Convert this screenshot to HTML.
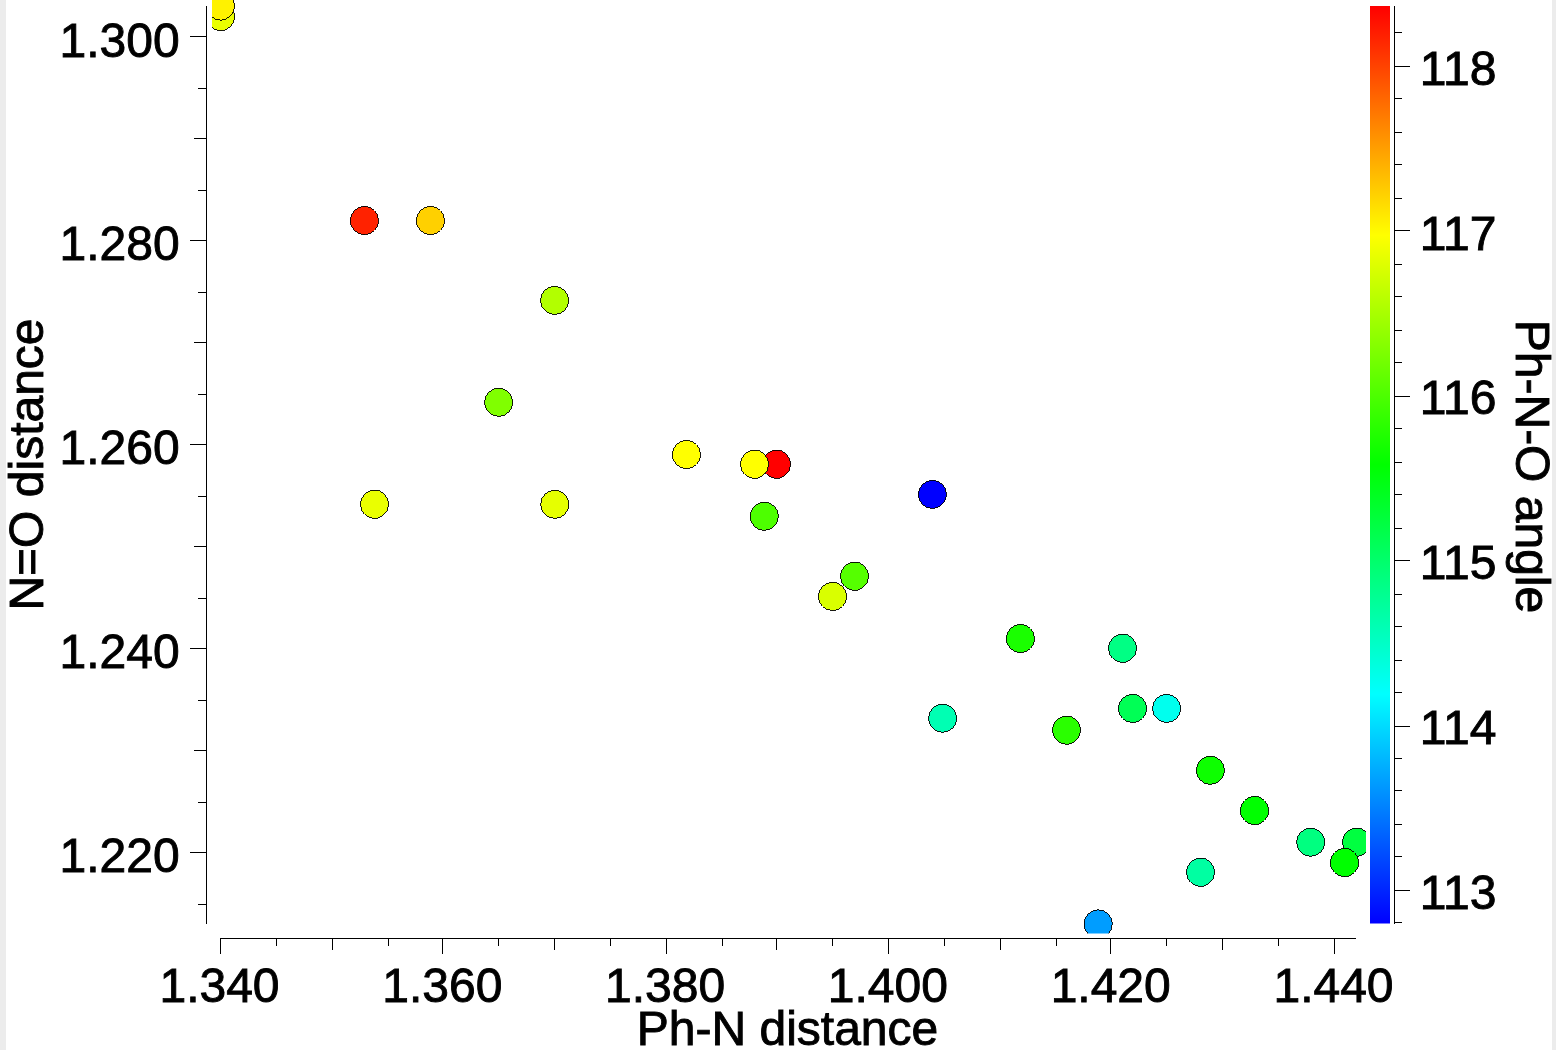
<!DOCTYPE html>
<html lang="en"><head><meta charset="utf-8"><title>Ph-N distance vs N=O distance</title>
<style>html,body{margin:0;padding:0;background:#fff;overflow:hidden}body{width:1556px;height:1050px;position:relative}svg{display:block;position:absolute;left:0;top:0}text{font-family:"Liberation Sans",Arial,Helvetica,sans-serif;font-size:48px;fill:#000;stroke:#000;stroke-width:0.9px;stroke-linejoin:miter}</style>
</head><body>
<svg width="1556" height="1050" viewBox="0 0 1556 1050">
<defs>
<clipPath id="plotclip"><rect x="212" y="-4" width="1154" height="937.6"/></clipPath>
<linearGradient id="cb" x1="0" y1="0" x2="0" y2="1"><stop offset="0.0000" stop-color="#ff0000"/><stop offset="0.0417" stop-color="#ff2a00"/><stop offset="0.0833" stop-color="#ff5500"/><stop offset="0.1250" stop-color="#ff8000"/><stop offset="0.1667" stop-color="#ffaa00"/><stop offset="0.2083" stop-color="#ffd400"/><stop offset="0.2500" stop-color="#ffff00"/><stop offset="0.2917" stop-color="#d4ff00"/><stop offset="0.3333" stop-color="#aaff00"/><stop offset="0.3750" stop-color="#80ff00"/><stop offset="0.4167" stop-color="#55ff00"/><stop offset="0.4583" stop-color="#2aff00"/><stop offset="0.5000" stop-color="#00ff00"/><stop offset="0.5417" stop-color="#00ff2a"/><stop offset="0.5833" stop-color="#00ff55"/><stop offset="0.6250" stop-color="#00ff80"/><stop offset="0.6667" stop-color="#00ffaa"/><stop offset="0.7083" stop-color="#00ffd4"/><stop offset="0.7500" stop-color="#00ffff"/><stop offset="0.7917" stop-color="#00d4ff"/><stop offset="0.8333" stop-color="#00aaff"/><stop offset="0.8750" stop-color="#0080ff"/><stop offset="0.9167" stop-color="#0055ff"/><stop offset="0.9583" stop-color="#002bff"/><stop offset="1.0000" stop-color="#0000ff"/></linearGradient>
</defs>
<rect x="0" y="0" width="1556" height="1050" fill="#ffffff"/>
<rect x="0" y="0" width="6" height="1050" fill="#ececec"/>
<rect x="1552" y="0" width="4" height="1050" fill="#ececec"/>
<g fill="#000" shape-rendering="crispEdges">
<rect x="206" y="6" width="1" height="918"/>
<rect x="190" y="36" width="16" height="1"/>
<rect x="198" y="88" width="8" height="1"/>
<rect x="194" y="138" width="12" height="1"/>
<rect x="198" y="190" width="8" height="1"/>
<rect x="190" y="240" width="16" height="1"/>
<rect x="198" y="292" width="8" height="1"/>
<rect x="194" y="342" width="12" height="1"/>
<rect x="198" y="394" width="8" height="1"/>
<rect x="190" y="444" width="16" height="1"/>
<rect x="198" y="496" width="8" height="1"/>
<rect x="194" y="546" width="12" height="1"/>
<rect x="198" y="598" width="8" height="1"/>
<rect x="190" y="648" width="16" height="1"/>
<rect x="198" y="700" width="8" height="1"/>
<rect x="194" y="750" width="12" height="1"/>
<rect x="198" y="802" width="8" height="1"/>
<rect x="190" y="852" width="16" height="1"/>
<rect x="198" y="904" width="8" height="1"/>
<rect x="220" y="938" width="1136" height="1"/>
<rect x="220" y="939" width="1" height="15"/>
<rect x="276" y="939" width="1" height="7"/>
<rect x="332" y="939" width="1" height="11"/>
<rect x="388" y="939" width="1" height="7"/>
<rect x="442" y="939" width="1" height="15"/>
<rect x="498" y="939" width="1" height="7"/>
<rect x="554" y="939" width="1" height="11"/>
<rect x="610" y="939" width="1" height="7"/>
<rect x="666" y="939" width="1" height="15"/>
<rect x="722" y="939" width="1" height="7"/>
<rect x="776" y="939" width="1" height="11"/>
<rect x="832" y="939" width="1" height="7"/>
<rect x="888" y="939" width="1" height="15"/>
<rect x="944" y="939" width="1" height="7"/>
<rect x="1000" y="939" width="1" height="11"/>
<rect x="1056" y="939" width="1" height="7"/>
<rect x="1110" y="939" width="1" height="15"/>
<rect x="1166" y="939" width="1" height="7"/>
<rect x="1222" y="939" width="1" height="11"/>
<rect x="1278" y="939" width="1" height="7"/>
<rect x="1334" y="939" width="1" height="15"/>
<rect x="1394" y="6" width="1" height="918"/>
<rect x="1395" y="32" width="7" height="1"/>
<rect x="1395" y="66" width="15" height="1"/>
<rect x="1395" y="98" width="7" height="1"/>
<rect x="1395" y="132" width="7" height="1"/>
<rect x="1395" y="164" width="7" height="1"/>
<rect x="1395" y="198" width="7" height="1"/>
<rect x="1395" y="230" width="15" height="1"/>
<rect x="1395" y="264" width="7" height="1"/>
<rect x="1395" y="296" width="7" height="1"/>
<rect x="1395" y="330" width="7" height="1"/>
<rect x="1395" y="362" width="7" height="1"/>
<rect x="1395" y="396" width="15" height="1"/>
<rect x="1395" y="428" width="7" height="1"/>
<rect x="1395" y="462" width="7" height="1"/>
<rect x="1395" y="494" width="7" height="1"/>
<rect x="1395" y="528" width="7" height="1"/>
<rect x="1395" y="560" width="15" height="1"/>
<rect x="1395" y="594" width="7" height="1"/>
<rect x="1395" y="626" width="7" height="1"/>
<rect x="1395" y="660" width="7" height="1"/>
<rect x="1395" y="692" width="7" height="1"/>
<rect x="1395" y="726" width="15" height="1"/>
<rect x="1395" y="758" width="7" height="1"/>
<rect x="1395" y="790" width="7" height="1"/>
<rect x="1395" y="824" width="7" height="1"/>
<rect x="1395" y="856" width="7" height="1"/>
<rect x="1395" y="890" width="15" height="1"/>
<rect x="1395" y="922" width="7" height="1"/>
</g>
<rect x="1370" y="6" width="20" height="917.5" fill="url(#cb)"/>
<text x="179.7" y="56.5" text-anchor="end">1.300</text>
<text x="179.7" y="260.4" text-anchor="end">1.280</text>
<text x="179.7" y="464.4" text-anchor="end">1.260</text>
<text x="179.7" y="668.3" text-anchor="end">1.240</text>
<text x="179.7" y="872.2" text-anchor="end">1.220</text>
<text x="219.5" y="1001.7" text-anchor="middle">1.340</text>
<text x="442.3" y="1001.7" text-anchor="middle">1.360</text>
<text x="665.1" y="1001.7" text-anchor="middle">1.380</text>
<text x="887.9" y="1001.7" text-anchor="middle">1.400</text>
<text x="1110.7" y="1001.7" text-anchor="middle">1.420</text>
<text x="1333.5" y="1001.7" text-anchor="middle">1.440</text>
<text x="1419.8" y="908.6">113</text>
<text x="1419.8" y="743.8">114</text>
<text x="1419.8" y="579.0">115</text>
<text x="1419.8" y="414.3">116</text>
<text x="1419.8" y="249.5">117</text>
<text x="1419.8" y="84.7">118</text>
<text x="787.5" y="1045.2" text-anchor="middle">Ph-N distance</text>
<text transform="translate(42.6 464.5) rotate(-90)" text-anchor="middle">N=O distance</text>
<text transform="translate(1515.6 466.5) rotate(90)" text-anchor="middle">Ph-N-O angle</text>
<g clip-path="url(#plotclip)" stroke="#000" stroke-width="0.9" shape-rendering="crispEdges">
<circle cx="220.5" cy="16.6" r="14.1" fill="#eaff00"/>
<circle cx="220.5" cy="6.0" r="14.1" fill="#fff200"/>
<circle cx="364.4" cy="220.5" r="14.1" fill="#ff2200"/>
<circle cx="430.4" cy="220.5" r="14.1" fill="#ffd000"/>
<circle cx="554.6" cy="300.4" r="14.1" fill="#b2ff00"/>
<circle cx="498.6" cy="402.3" r="14.1" fill="#80ff00"/>
<circle cx="374.5" cy="504.3" r="14.1" fill="#eaff00"/>
<circle cx="554.8" cy="504.3" r="14.1" fill="#e6ff00"/>
<circle cx="686.4" cy="454.5" r="14.1" fill="#ffff00"/>
<circle cx="776.5" cy="464.3" r="14.1" fill="#ff0000"/>
<circle cx="754.5" cy="464.3" r="14.1" fill="#ffff00"/>
<circle cx="764.3" cy="516.3" r="14.1" fill="#4dff00"/>
<circle cx="932.4" cy="494.4" r="14.1" fill="#0000ff"/>
<circle cx="854.5" cy="576.3" r="14.1" fill="#55ff00"/>
<circle cx="832.5" cy="596.4" r="14.1" fill="#d9ff00"/>
<circle cx="1020.4" cy="638.5" r="14.1" fill="#1aff00"/>
<circle cx="1122.5" cy="648.3" r="14.1" fill="#00ff84"/>
<circle cx="942.6" cy="718.2" r="14.1" fill="#00ffb3"/>
<circle cx="1066.5" cy="730.2" r="14.1" fill="#2aff00"/>
<circle cx="1132.5" cy="708.4" r="14.1" fill="#00ff55"/>
<circle cx="1166.6" cy="708.4" r="14.1" fill="#00ffee"/>
<circle cx="1210.4" cy="770.3" r="14.1" fill="#0dff00"/>
<circle cx="1254.5" cy="810.5" r="14.1" fill="#00ff00"/>
<circle cx="1310.7" cy="842.2" r="14.1" fill="#00ff80"/>
<circle cx="1356.5" cy="842.2" r="14.1" fill="#00ff40"/>
<circle cx="1344.5" cy="862.5" r="14.1" fill="#00ff00"/>
<circle cx="1200.5" cy="872.3" r="14.1" fill="#00ffa2"/>
<circle cx="1098.2" cy="923.9" r="14.1" fill="#009dff"/>
</g>
</svg>
</body></html>
